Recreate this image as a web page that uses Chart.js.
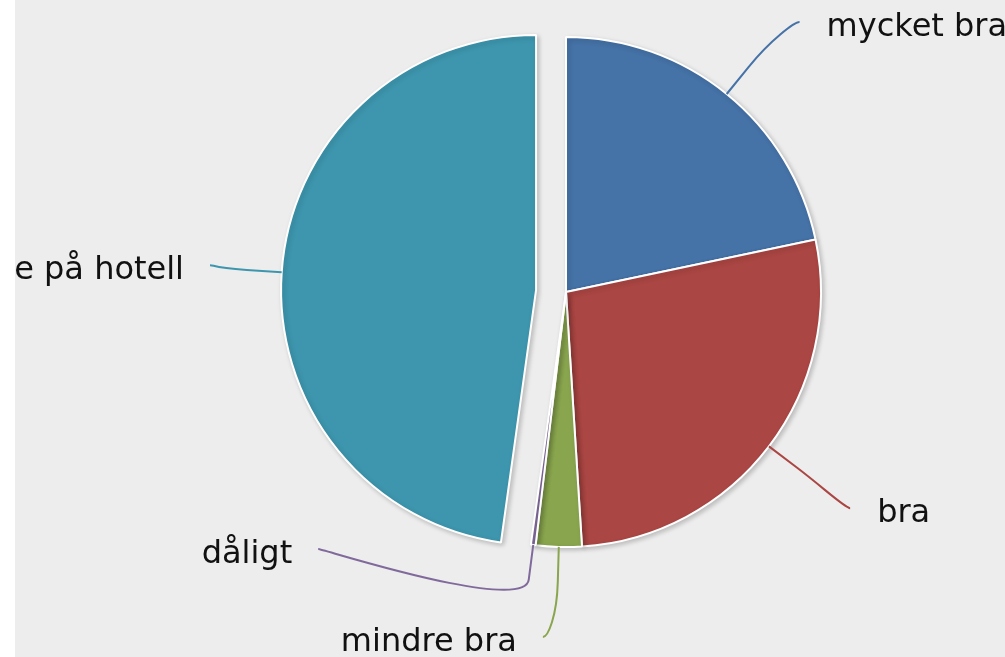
<!DOCTYPE html>
<html>
<head>
<meta charset="utf-8">
<script src="https://cdn.jsdelivr.net/npm/chart.js@4/dist/chart.umd.min.js"></script>
<style>
  html, body { margin: 0; padding: 0; background: #ffffff; }
  #wrap { position: absolute; left: 15px; top: 0; width: 990px; height: 657px; background: #ededed; }
</style>
</head>
<body>
<div id="wrap"><canvas id="myChart"></canvas></div>
<script>
// data (share of answers, %)
const categories = ['mycket bra', 'bra', 'mindre bra', 'dåligt', 'bodde inte på hotell'];
const shares = [21.7, 27.3, 2.9, 0.3, 47.8];
const sliced = [false, false, false, false, true];
const colors = ['#4572A7', '#AA4643', '#89A54E', '#80699B', '#3D96AE'];

(() => {
  'use strict';

  const sliceOffset = 30;
  const labelDistance = 102;   // label ring beyond the pie edge
  const breakOut = 35;          // where the connector leaves the radial line
  const labelGap = 88;
  const labelTop = 22;
  const labelBottom = 637;
  const edgePad = 13;          // extra step out for labels past the ring

  // move sliced points out along their middle angle
  const slicePlugin = {
    id: 'slice',
    afterDatasetUpdate(chart, args) {
      args.meta.data.forEach((arc, i) => {
        if (!sliced[i]) return;
        const mid = (arc.startAngle + arc.endAngle) / 2;
        arc.x += Math.cos(mid) * sliceOffset;
        arc.y += Math.sin(mid) * sliceOffset;
      });
    }
  };

  // shadow under the slices + outside labels with soft connectors
  const labelPlugin = {
    id: 'pieLabels',
    beforeDatasetsDraw(chart) {
      const ctx = chart.ctx;
      ctx.save();
      ctx.shadowColor = 'rgba(0,0,0,0.2)';
      ctx.shadowBlur = 5;
      ctx.shadowOffsetX = 2;
      ctx.shadowOffsetY = 2;
    },
    afterDatasetsDraw(chart) {
      const ctx = chart.ctx;
      ctx.restore();

      const area = chart.chartArea;
      const cx0 = (area.left + area.right) / 2;
      const cy0 = (area.top + area.bottom) / 2;
      const arcs = chart.getDatasetMeta(0).data;

      const items = arcs.map((arc, i) => {
        const mid = (arc.startAngle + arc.endAngle) / 2;
        const cos = Math.cos(mid), sin = Math.sin(mid);
        const r = arc.outerRadius;
        return {
          i, side: cos >= 0 ? 1 : -1,
          ex: arc.x + cos * r, ey: arc.y + sin * r,
          bx: arc.x + cos * (r + breakOut), by: arc.y + sin * (r + breakOut),
          nx: arc.x + cos * (r + labelDistance), ny: arc.y + sin * (r + labelDistance),
          R: r + labelDistance
        };
      });

      [1, -1].forEach(side => {
        const list = items.filter(it => it.side === side).sort((a, b) => a.ny - b.ny);
        list.forEach(it => { it.ly = Math.min(Math.max(it.ny, labelTop), labelBottom); });
        for (let k = list.length - 2; k >= 0; k--) {
          list[k].ly = Math.min(list[k].ly, list[k + 1].ly - labelGap);
        }
        list.forEach(it => {
          const dy = it.ly - cy0;
          if (Math.abs(dy) > it.R * 0.95) {
            it.lx = it.nx + side * edgePad;
          } else {
            it.lx = cx0 + side * Math.sqrt(it.R * it.R - dy * dy);
          }
        });
      });

      ctx.save();
      ctx.font = '32px "DejaVu Sans"';
      ctx.textBaseline = 'alphabetic';
      items.forEach(it => {
        ctx.strokeStyle = colors[it.i];
        ctx.lineWidth = 2;
        ctx.beginPath();
        ctx.moveTo(it.lx, it.ly);
        ctx.bezierCurveTo(it.lx - it.side * 5, it.ly, 2 * it.bx - it.ex, 2 * it.by - it.ey, it.bx, it.by);
        ctx.lineTo(it.ex, it.ey);
        ctx.stroke();

        ctx.fillStyle = '#111';
        ctx.textAlign = it.side > 0 ? 'left' : 'right';
        ctx.fillText(categories[it.i], it.lx + it.side * (it.side > 0 ? 27 : 26), it.ly + 14);
      });
      ctx.restore();
    }
  };

  const ctx = document.getElementById('myChart');
  new Chart(ctx, {
    type: 'pie',
    data: {
      labels: categories,
      datasets: [{
        data: shares,
        backgroundColor: colors,
        borderColor: '#ffffff',
        borderWidth: 2
      }]
    },
    options: {
      responsive: true,
      maintainAspectRatio: false,
      animation: false,
      events: [],
      radius: 255,
      layout: { padding: { left: 112, right: 0, top: 0, bottom: 73 } },
      plugins: {
        legend: { display: false },
        tooltip: { enabled: false }
      }
    },
    plugins: [slicePlugin, labelPlugin]
  });
})();
</script>
</body>
</html>
